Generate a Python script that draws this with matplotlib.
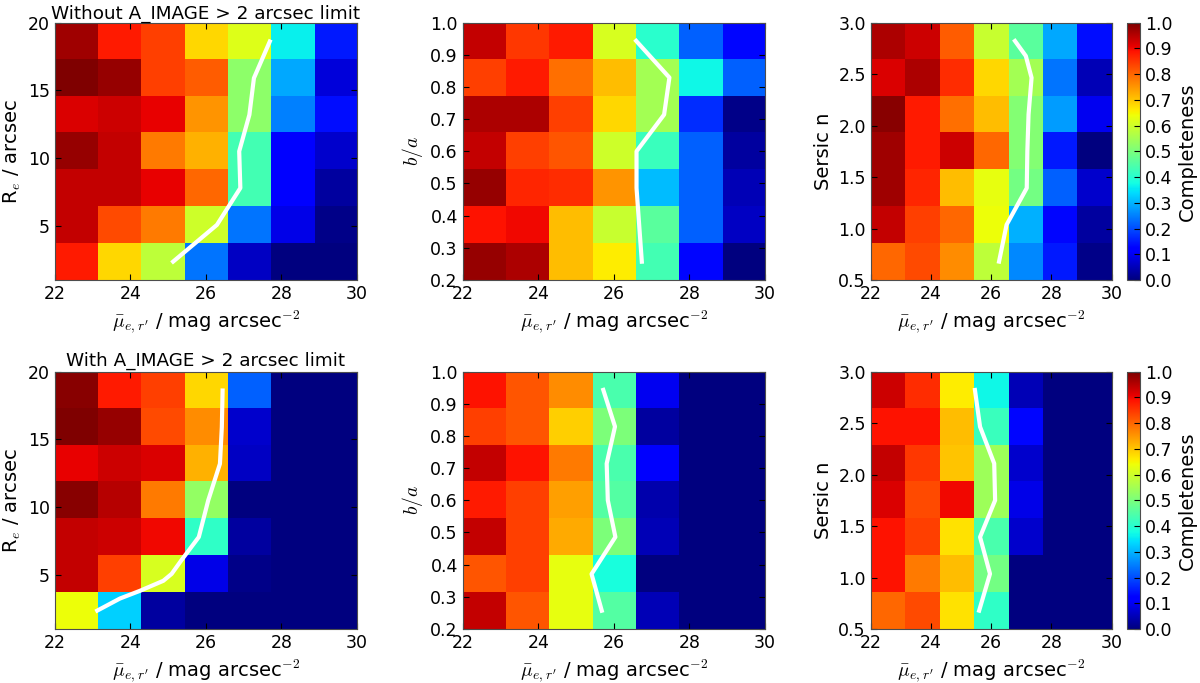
import numpy as np
import matplotlib
matplotlib.use('Agg')
import matplotlib.pyplot as plt

plt.rcParams['font.family'] = 'DejaVu Sans'
plt.rcParams['font.size'] = 12
plt.rcParams['mathtext.fontset'] = 'cm'
plt.rcParams['xtick.direction'] = 'in'
plt.rcParams['ytick.direction'] = 'in'
plt.rcParams['xtick.top'] = True
plt.rcParams['ytick.right'] = True
plt.rcParams['xtick.major.size'] = 4
plt.rcParams['ytick.major.size'] = 4
plt.rcParams['axes.edgecolor'] = '0.3'

MU_RANGE = (22, 30)
RE_RANGE = (1, 20)
BA_RANGE = (0.2, 1.0)
N_RANGE = (0.5, 3.0)

# completeness grids, rows from top (largest y) to bottom, columns 22 -> 30
re_nolim = [
    [0.97, 0.88, 0.84, 0.68, 0.62, 0.36, 0.15],
    [1.00, 0.98, 0.84, 0.81, 0.52, 0.29, 0.08],
    [0.92, 0.93, 0.91, 0.75, 0.52, 0.25, 0.14],
    [0.98, 0.94, 0.78, 0.72, 0.43, 0.12, 0.07],
    [0.94, 0.94, 0.91, 0.80, 0.43, 0.12, 0.03],
    [0.94, 0.83, 0.78, 0.60, 0.24, 0.09, 0.01],
    [0.88, 0.68, 0.58, 0.24, 0.06, 0.00, 0.00],
]
ba_nolim = [
    [0.94, 0.85, 0.88, 0.61, 0.40, 0.22, 0.13],
    [0.84, 0.88, 0.79, 0.71, 0.55, 0.37, 0.22],
    [0.96, 0.96, 0.84, 0.68, 0.55, 0.17, 0.01],
    [0.94, 0.84, 0.82, 0.60, 0.42, 0.22, 0.03],
    [0.98, 0.87, 0.86, 0.75, 0.31, 0.22, 0.05],
    [0.89, 0.90, 0.71, 0.59, 0.46, 0.22, 0.06],
    [0.98, 0.96, 0.71, 0.66, 0.43, 0.13, 0.00],
]
n_nolim = [
    [0.96, 0.93, 0.81, 0.59, 0.46, 0.29, 0.14],
    [0.92, 0.96, 0.86, 0.68, 0.55, 0.24, 0.05],
    [0.99, 0.88, 0.79, 0.71, 0.51, 0.28, 0.10],
    [0.97, 0.88, 0.93, 0.80, 0.51, 0.15, 0.00],
    [0.97, 0.87, 0.71, 0.63, 0.49, 0.22, 0.07],
    [0.94, 0.84, 0.80, 0.64, 0.30, 0.13, 0.03],
    [0.80, 0.83, 0.76, 0.58, 0.26, 0.15, 0.01],
]
re_lim = [
    [0.99, 0.88, 0.84, 0.68, 0.22, 0.00, 0.00],
    [1.00, 0.98, 0.83, 0.76, 0.07, 0.00, 0.00],
    [0.91, 0.93, 0.92, 0.72, 0.06, 0.00, 0.00],
    [0.99, 0.95, 0.78, 0.53, 0.00, 0.00, 0.00],
    [0.94, 0.93, 0.90, 0.41, 0.03, 0.00, 0.00],
    [0.94, 0.84, 0.61, 0.09, 0.01, 0.00, 0.00],
    [0.64, 0.33, 0.03, 0.00, 0.00, 0.00, 0.00],
]
ba_lim = [
    [0.89, 0.82, 0.76, 0.44, 0.10, 0.00, 0.00],
    [0.84, 0.82, 0.69, 0.50, 0.03, 0.00, 0.00],
    [0.94, 0.89, 0.78, 0.44, 0.11, 0.00, 0.00],
    [0.88, 0.84, 0.74, 0.45, 0.04, 0.00, 0.00],
    [0.94, 0.84, 0.73, 0.50, 0.05, 0.00, 0.00],
    [0.82, 0.84, 0.63, 0.38, 0.00, 0.00, 0.00],
    [0.94, 0.82, 0.63, 0.45, 0.05, 0.00, 0.00],
]
n_lim = [
    [0.93, 0.86, 0.66, 0.37, 0.05, 0.00, 0.00],
    [0.89, 0.89, 0.71, 0.42, 0.13, 0.00, 0.00],
    [0.94, 0.85, 0.70, 0.54, 0.07, 0.00, 0.00],
    [0.92, 0.83, 0.90, 0.54, 0.09, 0.00, 0.00],
    [0.89, 0.84, 0.67, 0.44, 0.07, 0.00, 0.00],
    [0.89, 0.78, 0.71, 0.49, 0.00, 0.00, 0.00],
    [0.80, 0.83, 0.67, 0.41, 0.00, 0.00, 0.00],
]

# 50% completeness curves (x = surface brightness, y = parameter)
re_nolim_x = [25.13, 26.29, 26.91, 26.88, 27.15, 27.27, 27.69]
re_nolim_y = [2.36, 5.07, 7.79, 10.5, 13.2, 15.9, 18.6]
ba_nolim_x = [26.74, 26.67, 26.60, 26.60, 27.33, 27.47, 26.59]
ba_nolim_y = [0.257, 0.371, 0.486, 0.600, 0.714, 0.829, 0.943]
n_nolim_x = [26.26, 26.51, 27.18, 27.20, 27.24, 27.34, 27.15, 26.79]
n_nolim_y = [0.679, 1.036, 1.393, 1.750, 2.107, 2.464, 2.675, 2.821]
re_lim_x = [23.12, 23.72, 24.25, 24.87, 25.09, 25.35, 25.81, 26.06, 26.37, 26.42, 26.44]
re_lim_y = [2.36, 3.25, 3.82, 4.56, 5.07, 6.08, 7.79, 10.5, 13.2, 15.9, 18.6]
ba_lim_x = [25.68, 25.41, 26.04, 25.84, 25.81, 26.03, 25.72]
ba_lim_y = [0.257, 0.371, 0.486, 0.600, 0.714, 0.829, 0.943]
n_lim_x = [25.60, 25.96, 25.63, 26.13, 26.10, 25.63, 25.46]
n_lim_y = [0.679, 1.036, 1.393, 1.750, 2.107, 2.464, 2.821]

xlabel = r"$\bar{\mu}_{e,r'}$ / mag arcsec$^{-2}$"

fig = plt.figure(figsize=(12, 6.83), dpi=100, facecolor='white')

rows = [
    (0.590, [(re_nolim, re_nolim_x, re_nolim_y), (ba_nolim, ba_nolim_x, ba_nolim_y),
             (n_nolim, n_nolim_x, n_nolim_y)], 'Without A_IMAGE > 2 arcsec limit', 1.5),
    (0.079, [(re_lim, re_lim_x, re_lim_y), (ba_lim, ba_lim_x, ba_lim_y),
             (n_lim, n_lim_x, n_lim_y)], 'With A_IMAGE > 2 arcsec limit', 4),
]
lefts = [0.0458, 0.3856, 0.7256]
widths = [0.2517, 0.2519, 0.2008]
yranges = [RE_RANGE, BA_RANGE, N_RANGE]
ylabels = [r'R$_e$ / arcsec', r'$b/a$', 'Sersic n']
yticks = [[5, 10, 15, 20], np.arange(0.2, 1.01, 0.1), np.arange(0.5, 3.01, 0.5)]

for bottom, panels, title, pad in rows:
    for i, (grid, lx, ly) in enumerate(panels):
        ax = fig.add_axes([lefts[i], bottom, widths[i], 0.377])
        im = ax.imshow(np.array(grid), cmap='jet', vmin=0, vmax=1, aspect='auto',
                       origin='upper', interpolation='nearest',
                       extent=[MU_RANGE[0], MU_RANGE[1], yranges[i][0], yranges[i][1]])
        ax.plot(lx, ly, color='white', lw=3)
        ax.set_xlim(*MU_RANGE)
        ax.set_ylim(*yranges[i])
        ax.set_xticks([22, 24, 26, 28, 30])
        ax.set_yticks(yticks[i])
        if i > 0:
            ax.set_yticklabels([f'{v:.1f}' for v in yticks[i]])
        ax.set_xlabel(xlabel, fontsize=14)
        ax.set_ylabel(ylabels[i], fontsize=14)
        ax.tick_params(labelsize=12.5)
        if i == 0:
            ax.set_title(title, fontsize=13.2, pad=pad)
        if i == 2:
            cax = fig.add_axes([0.9389, bottom, 0.0111, 0.377])
            cb = fig.colorbar(im, cax=cax, ticks=np.arange(0, 1.01, 0.1))
            cb.ax.set_yticklabels([f'{v:.1f}' for v in np.arange(0, 1.01, 0.1)])
            cb.ax.tick_params(labelsize=12.5)
            cb.set_label('Completeness', fontsize=14)

fig.savefig('out.png', dpi=100, facecolor='white')
